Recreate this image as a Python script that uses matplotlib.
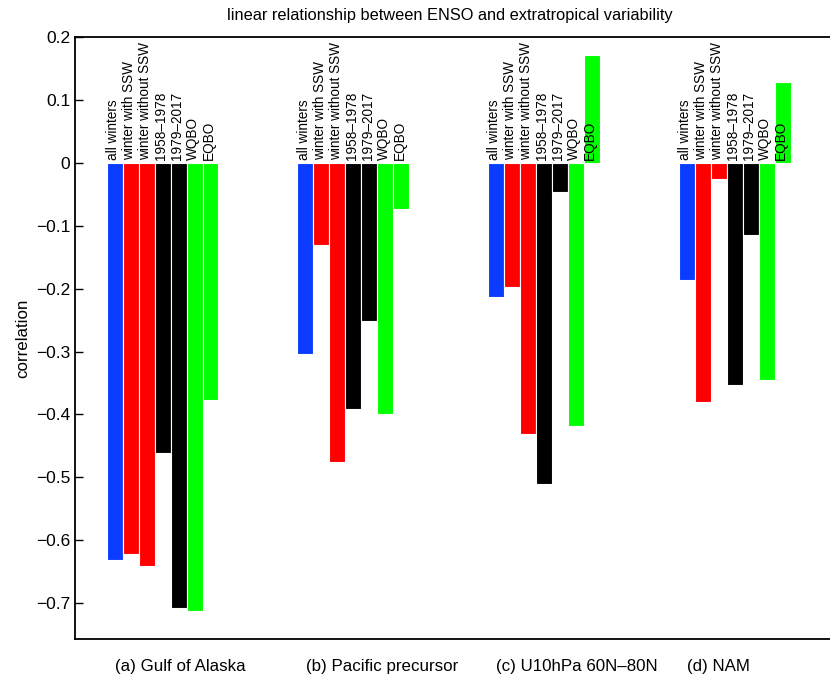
import numpy as np
import matplotlib
matplotlib.use("Agg")
from matplotlib import pyplot as plt

# correlation of ENSO with each extratropical index, per sample subset
regions = ["(a) Gulf of Alaska", "(b) Pacific precursor", "(c) U10hPa 60N\u201380N", "(d) NAM"]
subsets = ["all winters", "winter with SSW", "winter without SSW",
           "1958\u20131978", "1979\u20132017", "WQBO", "EQBO"]
gulf_alaska = [-0.632, -0.622, -0.641, -0.461, -0.707, -0.713, -0.377]
pacific_precursor = [-0.304, -0.131, -0.476, -0.391, -0.252, -0.400, -0.073]
u10hpa = [-0.213, -0.198, -0.431, -0.510, -0.047, -0.419, 0.172]
nam = [-0.187, -0.380, -0.025, -0.353, -0.115, -0.346, 0.128]
colors = ["#0a3cff", "#ff0000", "#ff0000", "#000000", "#000000", "#00ff00", "#00ff00"]

values = np.array([gulf_alaska, pacific_precursor, u10hpa, nam])

fig = plt.figure(figsize=(8.3, 6.75), dpi=100)
ax = fig.add_axes([0.0904, 0.0533, 0.9096, 0.8919])

width = 0.0838
groups = np.arange(1, 5)
for j in range(len(subsets)):
    xpos = groups + (j - 3) * width
    ax.bar(xpos, values[:, j], width=width, color=colors[j],
           edgecolor="white", linewidth=0.8)
    for x in xpos:
        ax.text(x - 0.008, 0.004, subsets[j], rotation=90, ha="center", va="bottom",
                fontsize=9.8, family="Liberation Sans")

for g, name in zip(groups, regions):
    ax.text(g - 0.25, -0.045, name, transform=ax.get_xaxis_transform(),
            ha="left", va="center", fontsize=12.2, family="Liberation Sans")

ax.set_xlim(0.541, 4.5)
ax.set_ylim(-0.757, 0.2)
ax.set_yticks(np.arange(-0.7, 0.21, 0.1))
ax.set_yticklabels(["\u22120.7", "\u22120.6", "\u22120.5", "\u22120.4", "\u22120.3",
                    "\u22120.2", "\u22120.1", "0", "0.1", "0.2"],
                   fontsize=12.5, family="Liberation Sans")
ax.set_xticks([])
ax.tick_params(axis="y", direction="in", length=6, width=1)
ax.spines["right"].set_visible(False)
for s in ["left", "top", "bottom"]:
    ax.spines[s].set_linewidth(1.3)

ax.set_ylabel("correlation", fontsize=12.2, family="Liberation Sans", labelpad=4)
ax.set_title("linear relationship between ENSO and extratropical variability",
             fontsize=11.8, family="Liberation Sans", pad=12, x=0.497)

fig.savefig("out.png", dpi=100)
